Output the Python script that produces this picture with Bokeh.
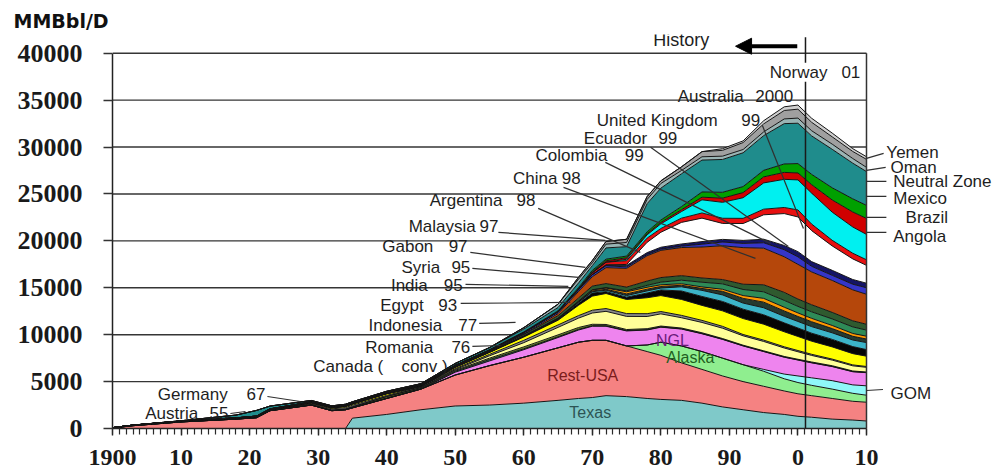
from bokeh.plotting import figure
from bokeh.models import ColumnDataSource, Range1d, FixedTicker, Label, Arrow, NormalHead
from bokeh.embed import file_html
from bokeh.resources import INLINE

years = [1900, 1903, 1910, 1918, 1921, 1923, 1929, 1932, 1934, 1935, 1940, 1945, 1950, 1955, 1960, 1965,
         1968, 1970, 1972, 1975, 1978, 1980, 1983, 1986, 1989, 1992, 1995, 1998, 2000, 2002, 2005, 2008, 2010]

texas = [0, 0, 0, 0, 0, 0, 0, 0, 0, 1100, 1500, 2000, 2400, 2500, 2700, 3000, 3200, 3300, 3500, 3400, 3200, 3100, 3000, 2700, 2300, 2000, 1700, 1500, 1300, 1200, 1000, 900, 800]
rest_usa = [50, 300, 700, 1000, 1150, 1900, 2500, 1900, 2000, 1100, 1700, 2200, 3300, 4200, 4900, 5600, 6000, 6100, 5900, 5400, 5000, 4700, 4000, 3600, 3300, 3000, 2800, 2500, 2400, 2300, 2200, 2000, 2000]
alaska = [0, 0, 0, 0, 0, 0, 0, 0, 0, 0, 0, 0, 0, 0, 0, 0, 0, 0, 0, 0, 700, 1400, 1800, 1900, 1900, 1800, 1600, 1300, 1200, 1100, 1000, 850, 750]
gom = [0, 0, 0, 0, 0, 0, 0, 0, 0, 0, 0, 0, 0, 0, 0, 0, 0, 0, 0, 0, 0, 0, 0, 0, 0, 0, 200, 500, 700, 800, 900, 900, 1000]
ngl = [0, 0, 0, 0, 0, 0, 0, 0, 0, 0, 0, 0, 300, 500, 800, 1100, 1300, 1500, 1500, 1600, 1600, 1600, 1800, 1900, 2000, 2000, 1900, 1800, 1700, 1600, 1500, 1400, 1400]
austria = [0, 0, 0, 0, 0, 0, 0, 0, 0, 20, 50, 50, 100, 150, 100, 80, 70, 60, 50, 40, 40, 30, 30, 25, 20, 20, 20, 20, 20, 20, 20, 20, 20]
germany = [20, 20, 20, 20, 20, 20, 30, 40, 60, 80, 150, 100, 100, 150, 200, 200, 200, 150, 140, 110, 100, 90, 80, 80, 70, 60, 60, 60, 60, 70, 70, 60, 50]
canada = [0, 0, 0, 5, 10, 10, 20, 20, 20, 20, 20, 20, 80, 250, 450, 800, 1000, 1200, 1400, 1400, 1300, 1300, 1100, 1100, 1100, 1000, 1000, 900, 800, 700, 600, 550, 500]
romania = [20, 30, 30, 20, 30, 30, 80, 130, 150, 160, 110, 100, 100, 150, 250, 260, 270, 300, 300, 300, 300, 250, 250, 220, 200, 140, 140, 130, 130, 120, 110, 100, 90]
indonesia = [0, 10, 30, 40, 50, 50, 100, 100, 120, 120, 170, 20, 130, 200, 350, 500, 1100, 1500, 1600, 1500, 1700, 1700, 1700, 1600, 1650, 1700, 1700, 1600, 1500, 1400, 1300, 1200, 1100]
egypt = [0, 0, 10, 20, 20, 20, 20, 30, 30, 30, 20, 30, 50, 40, 60, 120, 200, 330, 200, 250, 500, 600, 900, 950, 1000, 1000, 1000, 950, 900, 850, 800, 750, 700]
india = [0, 0, 5, 5, 5, 5, 5, 5, 5, 5, 5, 5, 5, 10, 10, 60, 120, 140, 150, 170, 230, 200, 450, 650, 700, 650, 750, 700, 700, 700, 700, 700, 750]
syria = [0, 0, 0, 0, 0, 0, 0, 0, 0, 0, 0, 0, 0, 0, 0, 0, 20, 80, 100, 180, 180, 170, 160, 200, 380, 500, 600, 570, 530, 520, 450, 400, 380]
gabon = [0, 0, 0, 0, 0, 0, 0, 0, 0, 0, 0, 0, 0, 0, 20, 20, 90, 110, 130, 220, 210, 180, 160, 170, 220, 300, 400, 400, 380, 360, 330, 300, 300]
malaysia = [0, 0, 0, 0, 0, 0, 0, 0, 0, 0, 0, 0, 0, 0, 0, 0, 10, 20, 50, 100, 200, 280, 380, 500, 580, 650, 700, 730, 700, 700, 700, 700, 650]
argentina = [0, 0, 0, 20, 20, 30, 30, 40, 40, 40, 50, 60, 70, 90, 180, 280, 340, 390, 430, 400, 460, 490, 480, 450, 460, 560, 750, 850, 780, 750, 700, 650, 620]
china = [0, 0, 0, 0, 0, 0, 0, 0, 0, 0, 0, 0, 0, 0, 50, 230, 700, 1000, 1700, 2000, 2700, 2900, 3000, 3300, 3600, 3900, 3900, 3800, 3700, 3500, 3400, 3300, 3200]
colombia = [0, 0, 0, 0, 20, 30, 50, 50, 50, 50, 70, 70, 90, 110, 150, 200, 200, 220, 200, 160, 130, 130, 150, 300, 400, 450, 580, 750, 800, 600, 550, 600, 700]
ecuador = [0, 0, 0, 0, 0, 0, 0, 0, 0, 0, 0, 0, 0, 0, 0, 0, 0, 0, 80, 160, 200, 200, 230, 280, 280, 320, 380, 450, 550, 500, 530, 500, 480]
united_kingdom = [0, 0, 0, 0, 0, 0, 0, 0, 0, 0, 0, 0, 0, 0, 0, 0, 0, 0, 0, 100, 1100, 1600, 2300, 2500, 1700, 1800, 2600, 3400, 3700, 3300, 2600, 2200, 1900]
australia = [0, 0, 0, 0, 0, 0, 0, 0, 0, 0, 0, 0, 0, 0, 0, 0, 50, 200, 300, 400, 450, 400, 450, 550, 550, 550, 600, 650, 750, 700, 600, 600, 600]
norway = [0, 0, 0, 0, 0, 0, 0, 0, 0, 0, 0, 0, 0, 0, 0, 0, 0, 0, 0, 150, 350, 500, 700, 1400, 1700, 2200, 2800, 3000, 3200, 3300, 3000, 2800, 2700]
angola = [0, 0, 0, 0, 0, 0, 0, 0, 0, 0, 0, 0, 0, 0, 0, 10, 20, 100, 150, 160, 120, 150, 200, 280, 450, 550, 640, 740, 740, 900, 1300, 1600, 1700]
brazil = [0, 0, 0, 0, 0, 0, 0, 0, 0, 0, 0, 0, 10, 60, 80, 90, 140, 160, 170, 180, 200, 250, 330, 560, 620, 640, 700, 900, 1000, 1100, 1300, 1400, 1400]
mexico = [0, 5, 30, 300, 600, 300, 150, 100, 110, 120, 120, 120, 200, 200, 300, 350, 500, 500, 1200, 1000, 3000, 3400, 3500, 3400, 3500, 3600, 3700, 4300, 4300, 4100, 4100, 3800, 3600]
neutral_zone = [0, 0, 0, 0, 0, 0, 0, 0, 0, 0, 0, 0, 0, 20, 150, 350, 400, 300, 400, 450, 450, 500, 350, 350, 350, 350, 400, 500, 550, 550, 550, 500, 450]
oman = [0, 0, 0, 0, 0, 0, 0, 0, 0, 0, 0, 0, 0, 0, 0, 0, 200, 250, 290, 340, 310, 280, 390, 550, 620, 740, 850, 900, 950, 900, 780, 750, 850]
yemen = [0, 0, 0, 0, 0, 0, 0, 0, 0, 0, 0, 0, 0, 0, 0, 0, 0, 0, 0, 0, 0, 0, 0, 0, 180, 180, 340, 390, 440, 430, 400, 300, 280]

series_names = ["Texas", "Rest-USA", "Alaska", "GOM", "NGL", "Austria", "Germany", "Canada", "Romania",
                "Indonesia", "Egypt", "India", "Syria", "Gabon", "Malaysia", "Argentina", "China", "Colombia",
                "Ecuador", "United Kingdom", "Australia", "Norway", "Angola", "Brazil", "Mexico",
                "Neutral Zone", "Oman", "Yemen"]
series_values = [texas, rest_usa, alaska, gom, ngl, austria, germany, canada, romania, indonesia, egypt,
                 india, syria, gabon, malaysia, argentina, china, colombia, ecuador, united_kingdom,
                 australia, norway, angola, brazil, mexico, neutral_zone, oman, yemen]
series_colors = ["#7fc9c9", "#f58282", "#8fee8f", "#8ff8f8", "#ee84ee", "#2f6f6f", "#6b8e23", "#ffff99",
                 "#8a8a8a", "#ffff00", "#050505", "#3cb4c8", "#263a30", "#ff9900", "#2e8b57", "#2f5a2f",
                 "#b5470b", "#3535c8", "#141466", "#ffffff", "#e81010", "#00f0f0", "#d00000", "#00a000",
                 "#1f8c8c", "#9ab4b4", "#a0a0a0", "#cfcfcf"]

y_ticks = [0, 5000, 10000, 15000, 20000, 25000, 30000, 35000, 40000]
x_ticks = [1900, 1910, 1920, 1930, 1940, 1950, 1960, 1970, 1980, 1990, 2000, 2010]
x_tick_labels = ["1900", "10", "20", "30", "40", "50", "60", "70", "80", "90", "0", "10"]
minor_years = list(range(1900, 2011))
first_year, last_year = 1900, 2010

# annotation texts (data coordinates)
left_names = ["Austria", "Germany", "Canada (", "Romania", "Indonesia", "Egypt", "India", "Syria", "Gabon",
              "Malaysia", "Argentina", "China", "Colombia", "Ecuador", "United Kingdom", "Australia", "Norway"]
left_years = ["55", "67", "conv )", "76", "77", "93", "95", "95", "97", "97", "98", "98", "99", "99", "99",
              "2000", "01"]
name_x = [1912.5, 1916.8, 1939.5, 1946.8, 1948.1, 1945.4, 1946.0, 1947.8, 1946.8, 1953.0, 1956.9, 1964.9,
          1972.2, 1978.0, 1988.3, 1992.1, 2004.3]
year_x = [1916.9, 1922.3, 1948.9, 1952.2, 1953.2, 1950.3, 1951.1, 1952.2, 1951.8, 1956.3, 1961.7, 1968.3,
          1977.5, 1982.4, 1994.5, 1999.3, 2009.1]
label_y = [1600, 3630, 6610, 8640, 10990, 13120, 15250, 17170, 19410, 21550, 24320, 26670, 29120, 30930,
           32850, 35410, 37970]
leaders = [(1917.2, 1600, 1919.4, 1810), (1922.6, 3410, 1927.4, 2880), (1952.5, 8750, 1956.6, 8850),
           (1953.5, 11200, 1958.8, 11310), (1950.8, 13330, 1966.8, 13440), (1951.5, 15360, 1966.5, 15150),
           (1952.5, 17070, 1968.0, 16110), (1952.2, 18770, 1969.0, 17170), (1956.3, 20910, 1971.9, 20050),
           (1962.1, 23470, 1977.0, 18770), (1965.8, 25710, 1993.8, 18130), (1971.9, 28370, 1996.0, 19730),
           (1978.5, 29970, 1998.6, 19410), (1994.8, 32320, 2000.8, 21330)]
right_names = ["Yemen", "Oman", "Neutral Zone", "Mexico", "Brazil", "Angola", "GOM"]
right_x = [2012.9, 2013.5, 2013.9, 2013.9, 2015.7, 2013.9, 2013.5]
right_y = [29440, 27840, 26350, 24530, 22510, 20480, 3730]
right_leaders = [(2010, 28800, 2012.5, 29330), (2010, 27520, 2012.8, 27840), (2010, 26350, 2012.9, 26350),
                 (2010, 24750, 2012.9, 24750), (2010, 22510, 2012.9, 22510), (2010, 20910, 2012.9, 20910),
                 (2010, 4050, 2012.4, 4160)]
inner_names = ["Texas", "Rest-USA", "NGL", "Alaska"]
inner_x = [1969.7, 1968.6, 1981.7, 1984.3]
inner_y = [1710, 5650, 9390, 7570]
inner_colors = ["#2c5454", "#7a1c1c", "#6a1b7a", "#1f5f1f"]

for nm, vals in zip(series_names, series_values):
    if len(vals) != len(years):
        raise ValueError(f"{nm}: {len(vals)} values")

data = {"year": years}
for nm, vals in zip(series_names, series_values):
    data[nm] = vals
src = ColumnDataSource(data)

p = figure(width=1000, height=473, x_range=Range1d(1900, 2029.55), y_range=Range1d(0, 42000),
           output_backend="svg", toolbar_location=None,
           min_border_left=112, min_border_right=0, min_border_top=34, min_border_bottom=45)
p.outline_line_color = None
p.background_fill_color = "white"
p.border_fill_color = "white"
p.xgrid.visible = False
p.ygrid.visible = False

p.title.text = "MMBbl/D"
p.title.align = "left"
p.title.offset = -99
p.title.standoff = 6
p.title.text_font = "DejaVu Sans"
p.title.text_font_style = "bold"
p.title.text_font_size = "19px"
p.title.text_color = "#111111"

# horizontal grid lines across the data span only
p.segment(x0=[first_year] * len(y_ticks), x1=[last_year] * len(y_ticks), y0=y_ticks, y1=y_ticks,
          line_color="#353535", line_width=1.4)

p.varea_stack(stackers=series_names, x="year", color=series_colors, source=src)
p.vline_stack(stackers=series_names, x="year", color=["#151515"] * len(series_names), line_width=1.0,
              source=src)

tick_font = "Liberation Serif"
p.yaxis.ticker = FixedTicker(ticks=y_ticks)
p.yaxis.bounds = (0, 40000)
p.yaxis.major_tick_out = 9
p.yaxis.major_tick_in = 0
p.yaxis.minor_tick_out = 0
p.yaxis.axis_line_width = 1.5
p.yaxis.axis_line_color = "#222222"
p.yaxis.major_tick_line_color = "#333333"
p.yaxis.major_tick_line_width = 1.4
p.yaxis.major_label_standoff = 21
p.yaxis.major_label_text_font = tick_font
p.yaxis.major_label_text_font_style = "bold"
p.yaxis.major_label_text_font_size = "26px"
p.yaxis.major_label_text_color = "#1a1a1a"

p.xaxis.ticker = FixedTicker(ticks=x_ticks, minor_ticks=minor_years)
p.xaxis.bounds = (first_year, last_year)
p.xaxis.major_label_overrides = {t: s for t, s in zip(x_ticks, x_tick_labels)}
p.xaxis.major_tick_out = 7
p.xaxis.major_tick_in = 0
p.xaxis.minor_tick_out = 6
p.xaxis.minor_tick_in = 0
p.xaxis.axis_line_width = 1.5
p.xaxis.axis_line_color = "#222222"
p.xaxis.major_tick_line_color = "#222222"
p.xaxis.major_tick_line_width = 1.4
p.xaxis.minor_tick_line_color = "#2a2a2a"
p.xaxis.minor_tick_line_width = 1.2
p.xaxis.major_label_standoff = 14
p.xaxis.major_label_text_font = tick_font
p.xaxis.major_label_text_font_style = "bold"
p.xaxis.major_label_text_font_size = "24px"
p.xaxis.major_label_text_color = "#1a1a1a"

# right frame edge
p.add_layout(Arrow(end=None, x_start=last_year, y_start=0, x_end=last_year, y_end=40000,
                   line_color="#333333", line_width=1.5))
# history marker line
p.add_layout(Arrow(end=None, x_start=2001.1, y_start=0, x_end=2001.1, y_end=41700,
                   line_color="#1a1a1a", line_width=1.5))
p.add_layout(Arrow(end=NormalHead(size=16, fill_color="black", line_color="black"),
                   x_start=1999.9, y_start=40750, x_end=1990.9, y_end=40750,
                   line_color="black", line_width=4))

txt_font = "Liberation Sans"
txt_size = "17px"
txt_color = "#1e1e1e"

for x0, y0, x1, y1 in leaders + right_leaders:
    p.add_layout(Arrow(end=None, x_start=x0, y_start=y0, x_end=x1, y_end=y1,
                       line_color="#303030", line_width=1.2))

for nm, yr, nx, yx, ly in zip(left_names, left_years, name_x, year_x, label_y):
    bg = "white" if nm == "Norway" else None
    p.add_layout(Label(x=nx, y=ly, text=nm, text_align="right", text_baseline="middle",
                       text_font=txt_font, text_font_size=txt_size, text_color=txt_color,
                       background_fill_color=bg))
    p.add_layout(Label(x=yx, y=ly, text=yr, text_align="right", text_baseline="middle",
                       text_font=txt_font, text_font_size=txt_size, text_color=txt_color,
                       background_fill_color=bg))

for nm, rx, ry in zip(right_names, right_x, right_y):
    p.add_layout(Label(x=rx, y=ry, text=nm, text_align="left", text_baseline="middle",
                       text_font=txt_font, text_font_size=txt_size, text_color=txt_color))

for nm, ix, iy, c in zip(inner_names, inner_x, inner_y, inner_colors):
    p.add_layout(Label(x=ix, y=iy, text=nm, text_align="center", text_baseline="middle",
                       text_font=txt_font, text_font_size="16px", text_color=c))

p.add_layout(Label(x=1978.9, y=41390, text="History", text_align="left", text_baseline="middle",
                   text_font=txt_font, text_font_size="18px", text_color=txt_color))

open("out.html", "w").write(file_html(p, INLINE))
